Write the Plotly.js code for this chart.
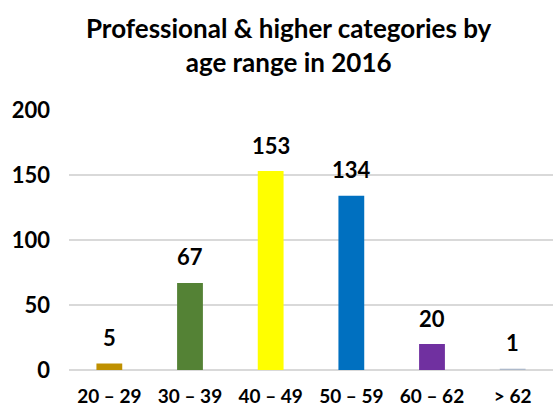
<!DOCTYPE html>
<html>
<head>
<meta charset="utf-8">
<script src="https://cdn.plot.ly/plotly-3.0.1.min.js"></script>
<style>html,body{margin:0;padding:0;background:#fff;}#chart{width:554px;height:410px;}</style>
</head>
<body>
<div id="chart"></div>
<script>
const categories = ["20 – 29", "30 – 39", "40 – 49", "50 – 59", "60 – 62", "> 62"];
const values = [5, 67, 153, 134, 20, 1];
const barColors = ["#BF9000", "#548235", "#FFFF00", "#0070C0", "#7030A0", "#ADB9CA"];
const yTicks = [0, 50, 100, 150, 200];
const titleText = "Professional & higher categories by<br>age range in 2016";

const FONT = "Lato, 'Open Sans', sans-serif";

const trace = {
  type: "bar",
  x: categories,
  y: values,
  marker: { color: barColors },
  width: 0.32,
  hoverinfo: "skip"
};

const annotations = categories.map((c, i) => ({
  x: c, y: values[i], xref: "x", yref: "y",
  text: String(values[i]), showarrow: false,
  yanchor: "middle", yshift: 26,
  font: { family: FONT, size: 22, color: "#000", weight: "bold" }
}));

const layout = {
  width: 554, height: 410,
  margin: { l: 69, r: 1, t: 110, b: 40 },
  paper_bgcolor: "#fff", plot_bgcolor: "#fff",
  showlegend: false,
  title: {
    text: titleText,
    font: { family: FONT, size: 26, color: "#000", weight: "bold" },
    x: 0.521, xref: "container", xanchor: "center",
    y: 0.907, yref: "container", yanchor: "top"
  },
  xaxis: {
    type: "category",
    range: [-0.5, 5.5],
    showgrid: false, zeroline: false, showline: false,
    ticks: "",
    tickfont: { family: FONT, size: 19, color: "#000", weight: "bold" },
    ticklabelstandoff: 13
  },
  yaxis: {
    range: [0, 200],
    tickvals: yTicks,
    showgrid: true, gridcolor: "#D9D9D9", gridwidth: 1.5,
    zeroline: true, zerolinecolor: "#D9D9D9", zerolinewidth: 1.5,
    showline: false, ticks: "",
    tickfont: { family: FONT, size: 22, color: "#000", weight: "bold" },
    ticklabelstandoff: 18
  },
  annotations: annotations,
  font: { family: FONT, weight: "bold" }
};

Plotly.newPlot("chart", [trace], layout, { displayModeBar: false, staticPlot: true });
</script>
</body>
</html>
